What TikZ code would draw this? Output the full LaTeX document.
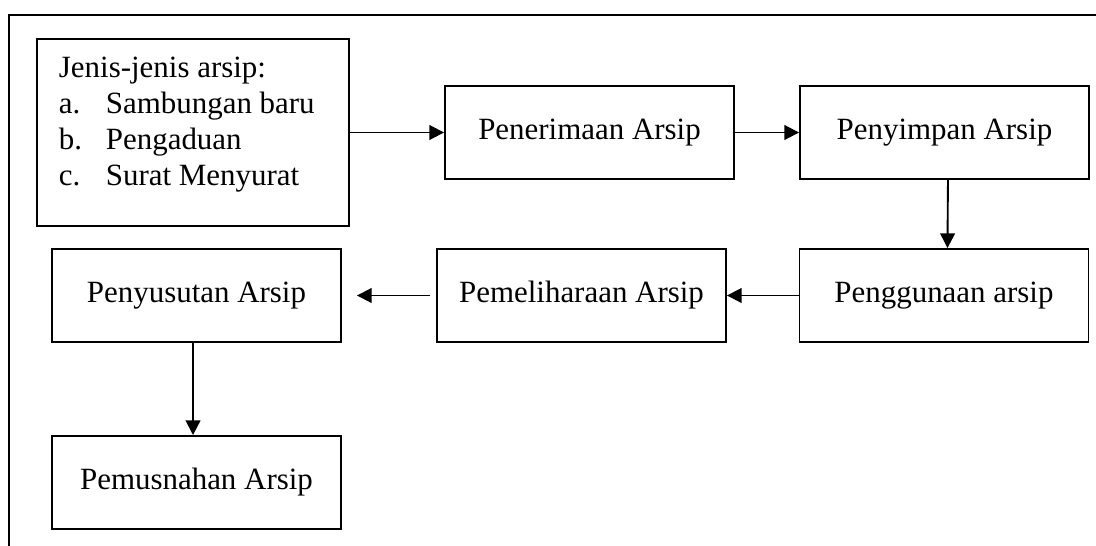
\documentclass[tikz,border=0pt]{standalone}
\usepackage{fontspec}
\setmainfont{Liberation Serif}
\usetikzlibrary{arrows.meta}
\begin{document}
\begin{tikzpicture}[x=0.75pt,y=-0.75pt,
  line width=1.4pt,
  stepbox/.style={draw, rectangle, inner sep=0pt, minimum width=216.75pt, minimum height=69.75pt,
    font=\fontsize{23.2}{27}\selectfont},
  flow/.style={-{Triangle[length=11pt,width=11pt]}}]
\useasboundingbox (0,0) rectangle (1096,546);
\coordinate (fa) at (9,546);
\coordinate (fb) at (9,15);
\coordinate (fc) at (1096,15);
\draw (fa) -- (fb) -- (fc);
\node[draw, rectangle, inner sep=0pt, minimum width=234pt, minimum height=140.25pt] (jenis) at (193,132.5) {};
\node[anchor=base west, inner sep=0pt] (jenistext) at (58,77) {\parbox[t]{220pt}{\fontsize{23.2}{27}\selectfont
Jenis-jenis arsip:\\
\makebox[35.25pt][l]{a.}Sambungan baru\\
\makebox[35.25pt][l]{b.}Pengaduan\\
\makebox[35.25pt][l]{c.}Surat Menyurat}};
\node[stepbox] (terima) at (589.5,132.5) {Penerimaan Arsip};
\node[stepbox] (simpan) at (944.5,132.5) {Penyimpan Arsip};
\node[stepbox] (guna) at (944,295.5) {Penggunaan arsip};
\node[stepbox] (pelihara) at (581.5,295.5) {Pemeliharaan Arsip};
\node[stepbox] (susut) at (196.5,295.5) {Penyusutan Arsip};
\node[stepbox] (musnah) at (196.5,482.5) {Pemusnahan Arsip};
\draw[flow] (jenis.east |- terima.west) -- (terima.west);
\draw[flow] (terima) -- (simpan);
\draw[flow] ([xshift=2.6pt]simpan.south) -- ([xshift=2.6pt]guna.north);
\draw[flow] (guna) -- (pelihara);
\draw[flow, shorten <=4.5pt, shorten >=11.25pt] (pelihara) -- (susut);
\draw[flow] ([xshift=-2.6pt]susut.south) -- ([xshift=-2.6pt]musnah.north);
\end{tikzpicture}
\end{document}
